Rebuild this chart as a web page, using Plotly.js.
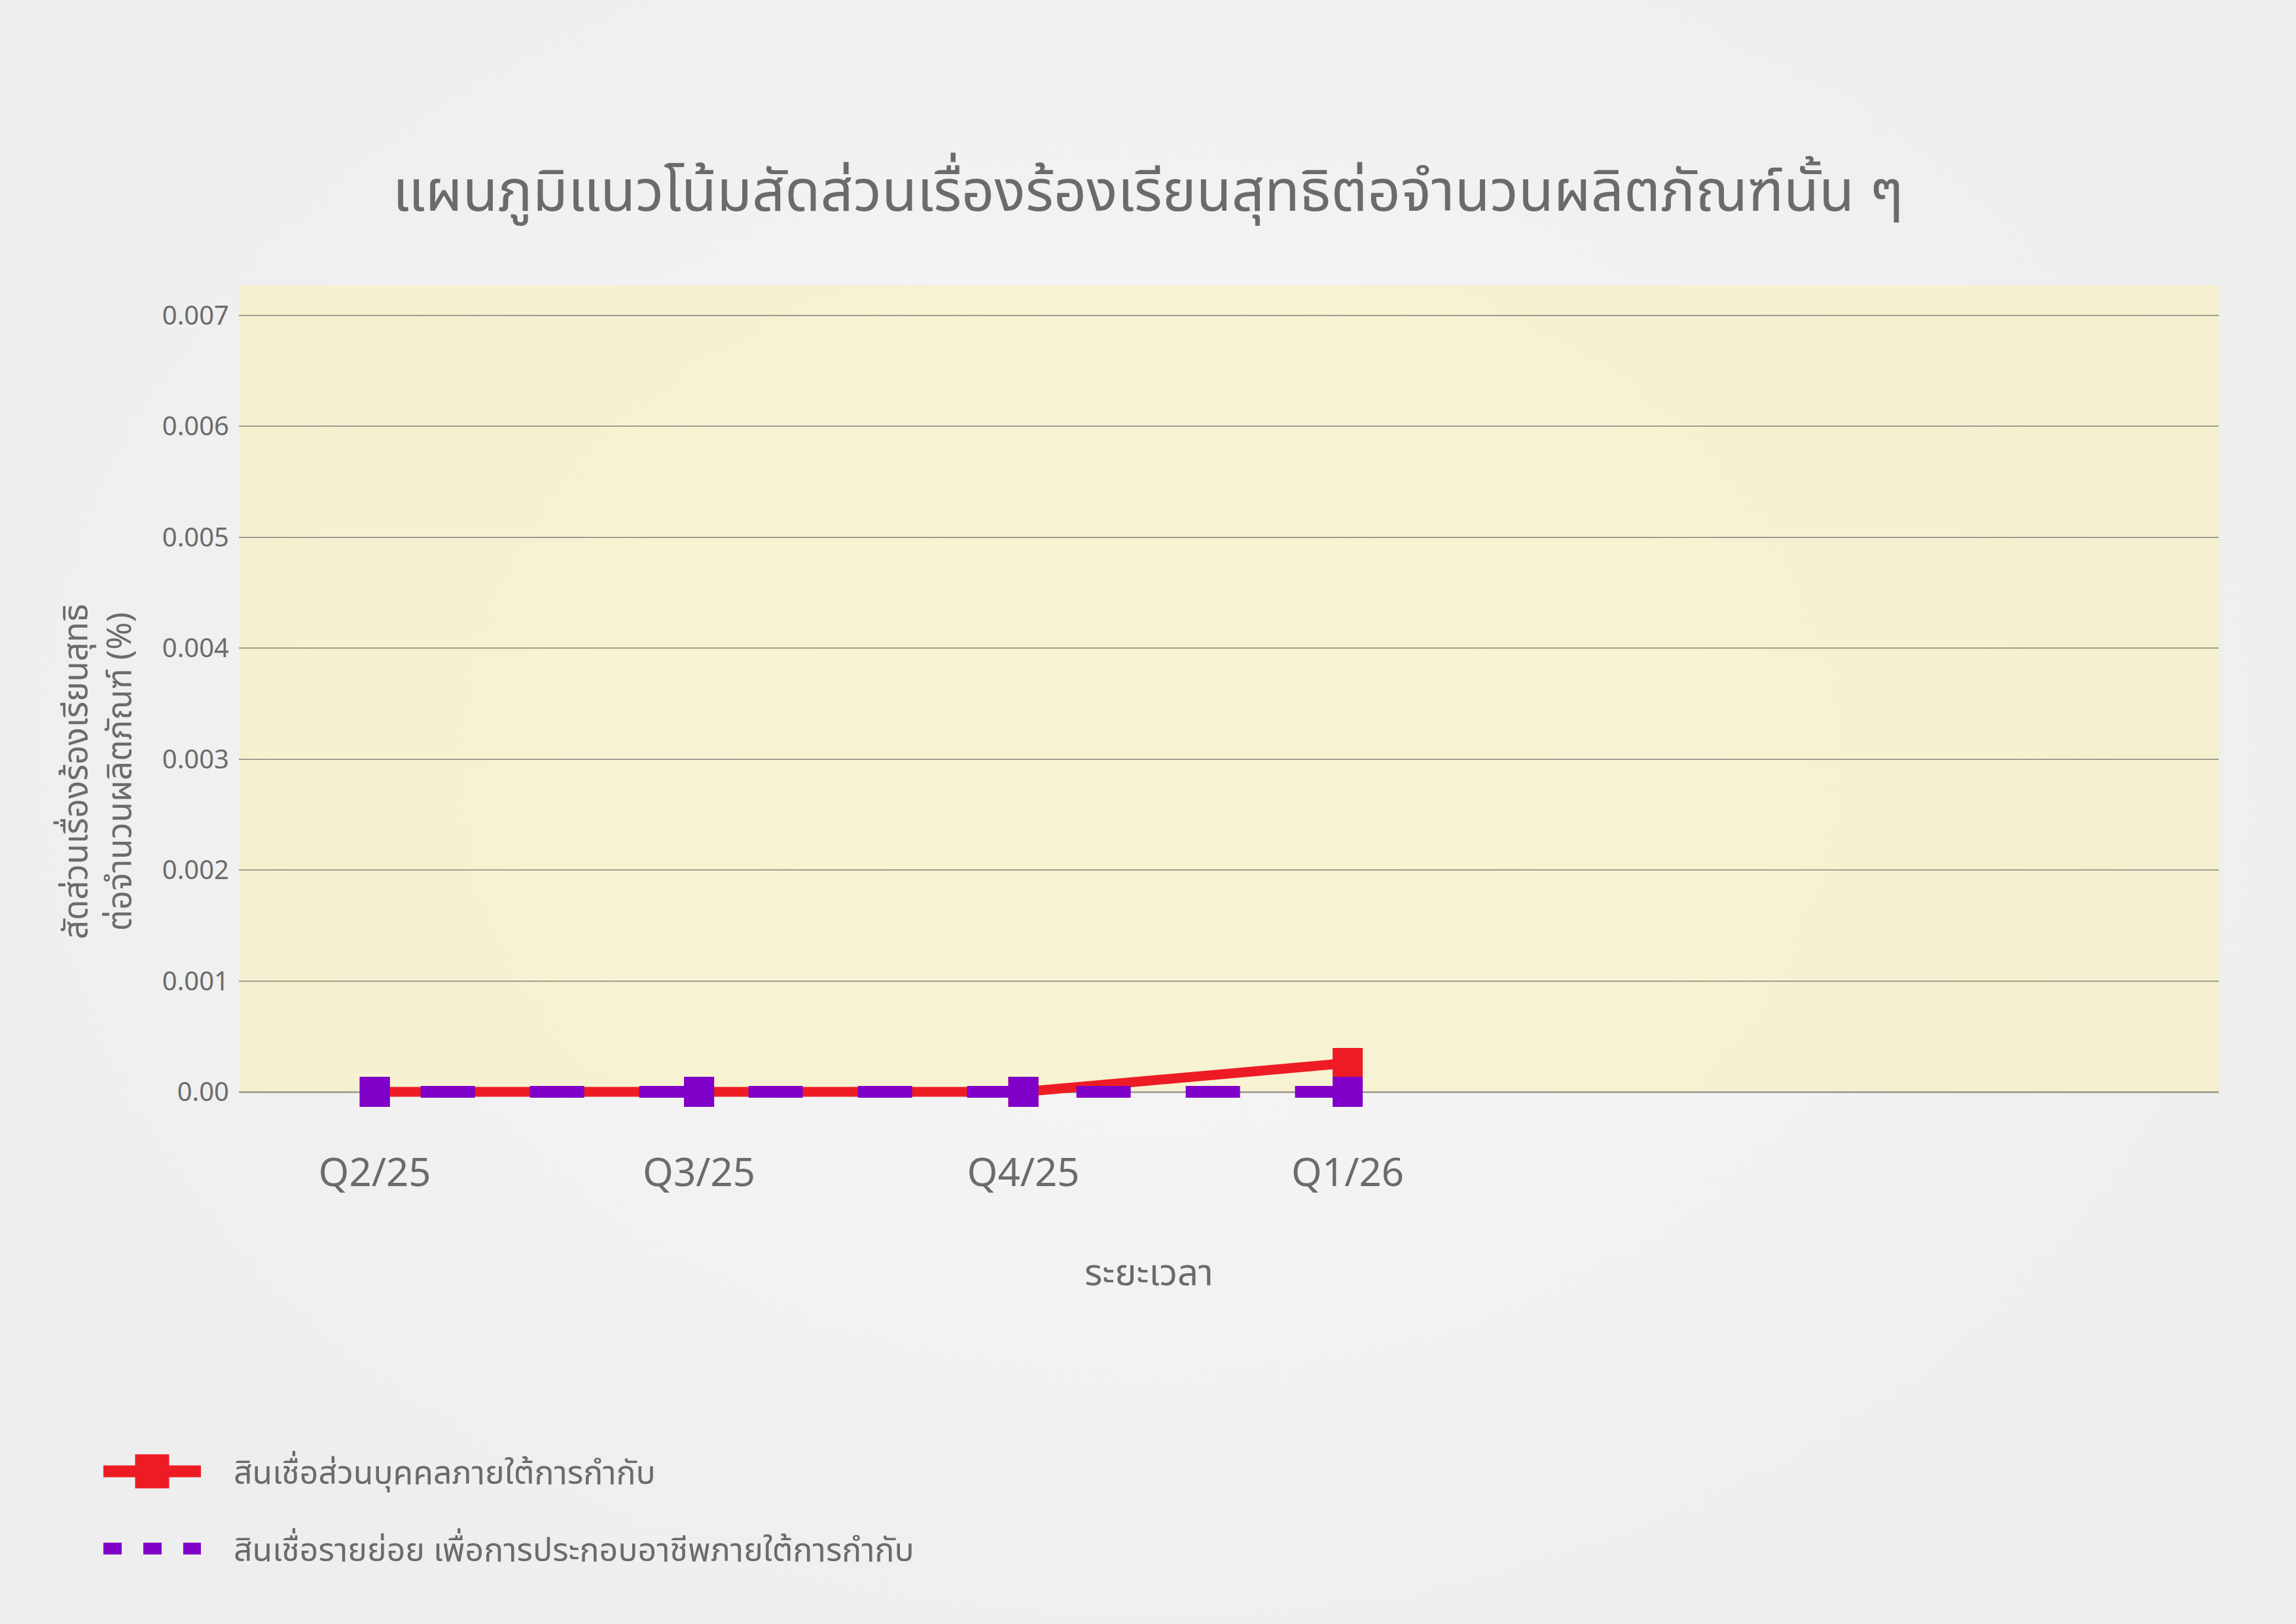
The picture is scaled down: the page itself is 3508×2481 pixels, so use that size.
<!DOCTYPE html>
<html>
<head>
<meta charset="utf-8">
<script src="https://cdn.plot.ly/plotly-3.0.1.min.js"></script>
<style>
html,body{margin:0;padding:0;}
body{width:3508px;height:2481px;background:radial-gradient(ellipse 55% 60% at 50% 47%, #f7f7f7 0%, #f3f3f3 45%, #eeeeee 100%);}
#chart{width:3508px;height:2481px;}
</style>
</head>
<body>
<div id="chart"></div>
<script>
// ---- data ----
var categories = ["Q2/25", "Q3/25", "Q4/25", "Q1/26"];
var personalLoan = [0, 0, 0, 0.00026];
var microLoan = [0, 0, 0, 0];
var seriesNames = ["สินเชื่อส่วนบุคคลภายใต้การกำกับ", "สินเชื่อรายย่อย เพื่อการประกอบอาชีพภายใต้การกำกับ"];
var yTickVals = [0, 0.001, 0.002, 0.003, 0.004, 0.005, 0.006, 0.007];
var yTickText = ["0.00", "0.001", "0.002", "0.003", "0.004", "0.005", "0.006", "0.007"];
var chartTitle = "แผนภูมิแนวโน้มสัดส่วนเรื่องร้องเรียนสุทธิต่อจำนวนผลิตภัณฑ์นั้น ๆ";
var xTitle = "ระยะเวลา";
var yTitle = "สัดส่วนเรื่องร้องเรียนสุทธิ<br>ต่อจำนวนผลิตภัณฑ์ (%)";

var RED = "#ed1c24", PURPLE = "#7f00c8", TXT = "#6b6b6b";
var FONT = "'Noto Sans Thai', 'Noto Sans', 'Open Sans', sans-serif";

var data = [
  {x: categories, y: personalLoan, name: seriesNames[0], type: "scatter", mode: "lines+markers",
   line: {color: RED, width: 15}, marker: {symbol: "square", size: 46, color: RED},
   cliponaxis: false, legendgroup: "a"},
  {x: categories, y: microLoan, name: seriesNames[1], type: "scatter", mode: "lines",
   line: {color: PURPLE, width: 18, dash: "0px,70px,83px,14px"}, cliponaxis: false, legendgroup: "b"},
  {x: categories, y: microLoan, name: seriesNames[1], type: "scatter", mode: "markers",
   marker: {symbol: "square", size: 46, color: PURPLE}, cliponaxis: false, showlegend: false, legendgroup: "b"}
];

var layout = {
  width: 3508, height: 2481,
  paper_bgcolor: "rgba(0,0,0,0)",
  plot_bgcolor: "rgba(250,240,180,0.55)",
  margin: {l: 365, r: 118, t: 436, b: 813, pad: 0},
  font: {family: FONT, color: TXT},
  title: {text: chartTitle, font: {size: 88, color: TXT, family: FONT},
          x: 0.5, xanchor: "center", xref: "container", y: 1 - 291/2481, yanchor: "middle", yref: "container"},
  xaxis: {type: "category", range: [-0.419, 5.686], showgrid: false, zeroline: false, showline: false,
          ticks: "", ticklabelstandoff: 83, tickfont: {size: 60, color: TXT, family: FONT}},
  yaxis: {range: [0, 0.00727], tickvals: yTickVals, ticktext: yTickText, showgrid: true,
          gridcolor: "#a39d92", gridwidth: 2, zeroline: true, zerolinecolor: "#a8a398", zerolinewidth: 3,
          showline: false, ticks: "", ticklabelstandoff: 14, tickfont: {size: 40, color: TXT, family: FONT}},
  showlegend: true,
  legend: {x: -0.0701, xanchor: "left", y: -0.439, yanchor: "top", orientation: "v",
           traceorder: "grouped", tracegroupgap: 50, itemwidth: 194,
           font: {size: 50, color: TXT, family: FONT}, bgcolor: "rgba(0,0,0,0)"},
  annotations: [
    {text: xTitle, xref: "paper", yref: "paper", x: 0.4598, y: -0.2256, xanchor: "center", yanchor: "middle",
     showarrow: false, font: {size: 56, color: TXT, family: FONT}},
    {text: yTitle, xref: "paper", yref: "paper", x: -0.0707, y: 0.397, xanchor: "center", yanchor: "middle",
     textangle: -90, showarrow: false, font: {size: 51, color: TXT, family: FONT}}
  ]
};

Plotly.newPlot("chart", data, layout, {staticPlot: true}).then(function (gd) {
  // let the thick lines spill over the zero edge like the markers do
  gd.querySelectorAll(".scatterlayer [clip-path], .scatterlayer .js-line").forEach(function (e) {
    e.removeAttribute("clip-path");
  });
  var sl = gd.querySelector(".scatterlayer");
  var node = sl;
  while (node && node !== gd) {
    if (node.hasAttribute && node.hasAttribute("clip-path")) node.removeAttribute("clip-path");
    node = node.parentNode;
  }
  var items = gd.querySelectorAll(".legend .traces");
  items.forEach(function (t, i) {
    var ln = t.querySelector("path.js-line");
    if (ln) {
      ln.setAttribute("d", "M5,0h149");
      ln.style.strokeWidth = "18px";
      if (i === 1) ln.style.strokeDasharray = "28px,33px";
    }
    var pt = t.querySelector("path.scatterpts");
    if (pt) {
      pt.setAttribute("transform", "translate(79.5,0)");
      pt.setAttribute("d", "M26,26H-26V-26H26Z");
    }
  });
});
</script>
</body>
</html>
